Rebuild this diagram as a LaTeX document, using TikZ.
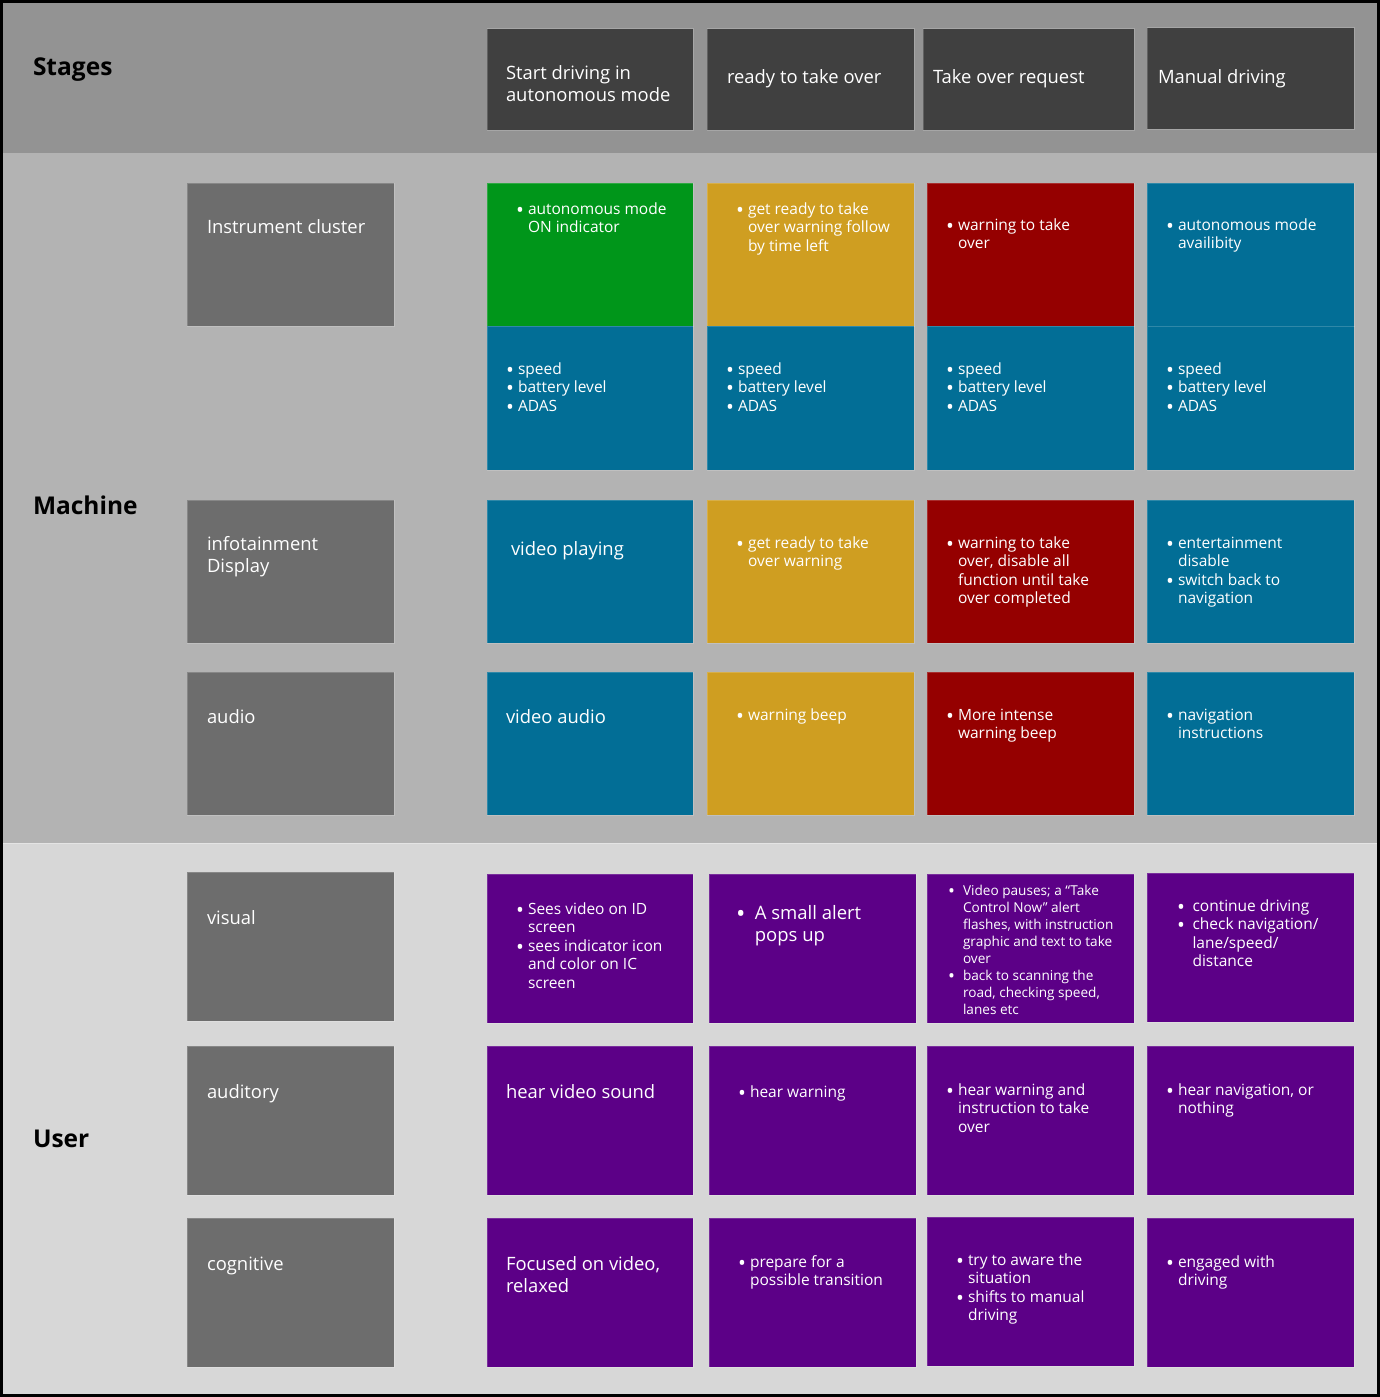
\documentclass[tikz,border=0pt]{standalone}
\usepackage{fontspec}
\setmainfont{Open Sans}
\definecolor{bandS}{HTML}{939393}
\definecolor{bandM}{HTML}{B3B3B3}
\definecolor{bandU}{HTML}{D7D7D7}
\definecolor{hdr}{HTML}{404040}
\definecolor{lbl}{HTML}{6D6D6D}
\definecolor{cgreen}{HTML}{00961A}
\definecolor{cyellow}{HTML}{CF9E21}
\definecolor{cred}{HTML}{950000}
\definecolor{cblue}{HTML}{026E96}
\definecolor{cpurple}{HTML}{5C0087}
\newcommand\bulx[1][12pt]{\makebox[#1][l]{\smash{\raisebox{-0.2em}{\scalebox{1.35}{\textbullet}}}}}
\newcommand\indx[1][12pt]{\hspace*{#1}}
\newcommand\mlines[1]{\begin{tabular}[t]{@{}l@{}}#1\end{tabular}}
\newcommand\boxat[5]{\path[boxst, fill=#5] (#1,#2) rectangle (#3,#4);}
\begin{document}
\begin{tikzpicture}[x=1pt,y=-1pt,
  boxst/.style={draw=white, draw opacity=0.18, line width=1pt},
  txt/.style={text=white, inner sep=0pt, outer sep=0pt, anchor=base west, font=\fontsize{15.5}{18.5}\selectfont},
  big/.style={text=white, inner sep=0pt, outer sep=0pt, anchor=base west, font=\fontsize{18.4}{22}\selectfont},
  small/.style={text=white, inner sep=0pt, outer sep=0pt, anchor=base west, font=\fontsize{13.6}{17}\selectfont},
  title/.style={text=black, inner sep=0pt, outer sep=0pt, anchor=base west, font=\fontsize{24.5}{28}\selectfont\bfseries}]
\useasboundingbox (0,0) rectangle (1380,1397);
% bands
\fill[bandS] (0,0) rectangle (1380,153);
\fill[bandM] (0,153) rectangle (1380,843);
\fill[bandU] (0,843) rectangle (1380,1397);
\draw[white, opacity=0.35, line width=1pt] (0,843.5) -- (1380,843.5);
% section titles
\node[title] (tS) at (33,76) {Stages};
\node[title] (tM) at (33,514) {Machine};
\node[title] (tU) at (33,1147) {User};
% header boxes
\boxat{487}{29}{693}{130}{hdr}
\boxat{707}{29}{914}{130}{hdr}
\boxat{923}{29}{1134}{130}{hdr}
\boxat{1147}{28}{1354}{129}{hdr}
\node[big] (h1) at (506,79) {\mlines{Start driving in\\autonomous mode}};
\node[big] (h2) at (727,83) {ready to take over};
\node[big] (h3) at (933,83) {Take over request};
\node[big] (h4) at (1158,83) {Manual driving};
% label boxes
\boxat{187}{183}{394}{326}{lbl}
\boxat{187}{500}{394}{643}{lbl}
\boxat{187}{672}{394}{815}{lbl}
\boxat{187}{872}{394}{1021}{lbl}
\boxat{187}{1046}{394}{1195}{lbl}
\boxat{187}{1218}{394}{1367}{lbl}
\node[big] (l1) at (207,233) {Instrument cluster};
\node[big] (l2) at (207,550) {\mlines{infotainment\\Display}};
\node[big] (l3) at (207,723) {audio};
\node[big] (l4) at (207,924) {visual};
\node[big] (l5) at (207,1098) {auditory};
\node[big] (l6) at (207,1270) {cognitive};
% Instrument cluster top
\boxat{487}{183}{693}{326}{cgreen}
\boxat{707}{183}{914}{326}{cyellow}
\boxat{927}{183}{1134}{326}{cred}
\boxat{1147}{183}{1354}{326}{cblue}
\node[txt] (a1) at (516,214) {\mlines{\bulx autonomous mode\\\indx ON indicator}};
\node[txt] (a2) at (736,214) {\mlines{\bulx get ready to take\\\indx over warning follow\\\indx by time left}};
\node[txt] (a3) at (946,230) {\mlines{\bulx warning to take\\\indx over}};
\node[txt] (a4) at (1166,230) {\mlines{\bulx autonomous mode\\\indx availibity}};
% Instrument cluster bottom
\boxat{487}{326}{693}{470}{cblue}
\boxat{707}{326}{914}{470}{cblue}
\boxat{927}{326}{1134}{470}{cblue}
\boxat{1147}{326}{1354}{470}{cblue}
\node[txt] (b1) at (506,374) {\mlines{\bulx speed\\\bulx battery level\\\bulx ADAS}};
\node[txt] (b2) at (726,374) {\mlines{\bulx speed\\\bulx battery level\\\bulx ADAS}};
\node[txt] (b3) at (946,374) {\mlines{\bulx speed\\\bulx battery level\\\bulx ADAS}};
\node[txt] (b4) at (1166,374) {\mlines{\bulx speed\\\bulx battery level\\\bulx ADAS}};
% infotainment
\boxat{487}{500}{693}{643}{cblue}
\boxat{707}{500}{914}{643}{cyellow}
\boxat{927}{500}{1134}{643}{cred}
\boxat{1147}{500}{1354}{643}{cblue}
\node[big] (c1) at (511,555) {video playing};
\node[txt] (c2) at (736,548) {\mlines{\bulx get ready to take\\\indx over warning}};
\node[txt] (c3) at (946,548) {\mlines{\bulx warning to take\\\indx over, disable all\\\indx function until take\\\indx over completed}};
\node[txt] (c4) at (1166,548) {\mlines{\bulx entertainment\\\indx disable\\\bulx switch back to\\\indx navigation}};
% audio
\boxat{487}{672}{693}{815}{cblue}
\boxat{707}{672}{914}{815}{cyellow}
\boxat{927}{672}{1134}{815}{cred}
\boxat{1147}{672}{1354}{815}{cblue}
\node[big] (d1) at (506,723) {video audio};
\node[txt] (d2) at (736,720) {\mlines{\bulx warning beep}};
\node[txt] (d3) at (946,720) {\mlines{\bulx More intense\\\indx warning beep}};
\node[txt] (d4) at (1166,720) {\mlines{\bulx navigation\\\indx instructions}};
% visual
\boxat{487}{874}{693}{1023}{cpurple}
\boxat{709}{874}{916}{1023}{cpurple}
\boxat{927}{874}{1134}{1023}{cpurple}
\boxat{1147}{873}{1354}{1022}{cpurple}
\node[txt] (e1) at (516,914) {\mlines{\bulx Sees video on ID\\\indx screen\\\bulx sees indicator icon\\\indx and color on IC\\\indx screen}};
\node[big,font=\fontsize{18.5}{22}\selectfont] (e2) at (736,919) {\mlines{\bulx[14pt] A small alert\\\indx[14pt] pops up}};
\node[small] (e3) at (948,895) {\mlines{\bulx[11.5pt] Video pauses; a “Take\\\indx[11.5pt] Control Now” alert\\\indx[11.5pt] flashes, with instruction\\\indx[11.5pt] graphic and text to take\\\indx[11.5pt] over\\\bulx[11.5pt] back to scanning the\\\indx[11.5pt] road, checking speed,\\\indx[11.5pt] lanes etc}};
\node[txt] (e4) at (1177,911) {\mlines{\bulx[11.5pt] continue driving\\\bulx[11.5pt] check navigation/\\\indx[11.5pt] lane/speed/\\\indx[11.5pt] distance}};
% auditory
\boxat{487}{1046}{693}{1195}{cpurple}
\boxat{709}{1046}{916}{1195}{cpurple}
\boxat{927}{1046}{1134}{1195}{cpurple}
\boxat{1147}{1046}{1354}{1195}{cpurple}
\node[big] (f1) at (506,1098) {hear video sound};
\node[txt] (f2) at (738,1097) {\mlines{\bulx hear warning}};
\node[txt] (f3) at (946,1095) {\mlines{\bulx hear warning and\\\indx instruction to take\\\indx over}};
\node[txt] (f4) at (1166,1095) {\mlines{\bulx hear navigation, or\\\indx nothing}};
% cognitive
\boxat{487}{1218}{693}{1367}{cpurple}
\boxat{709}{1218}{916}{1367}{cpurple}
\boxat{927}{1217}{1134}{1366}{cpurple}
\boxat{1147}{1218}{1354}{1367}{cpurple}
\node[big] (g1) at (506,1270) {\mlines{Focused on video,\\relaxed}};
\node[txt] (g2) at (738,1267) {\mlines{\bulx prepare for a\\\indx possible transition}};
\node[txt] (g3) at (956,1265) {\mlines{\bulx try to aware the\\\indx situation\\\bulx shifts to manual\\\indx driving}};
\node[txt] (g4) at (1166,1267) {\mlines{\bulx engaged with\\\indx driving}};
% outer frame
\draw[black, line width=3pt] (1.5,1.5) rectangle (1378.5,1395.5);
\end{tikzpicture}
\end{document}
